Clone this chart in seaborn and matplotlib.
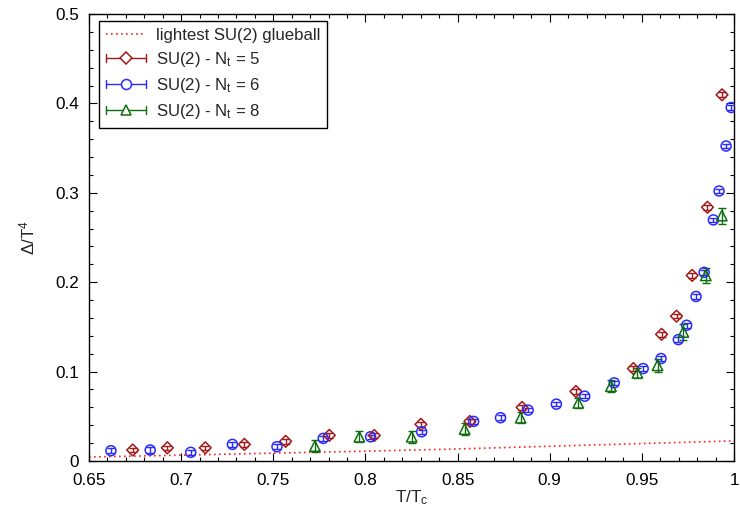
import numpy as np
import pandas as pd
import matplotlib
matplotlib.use("Agg")
import matplotlib.pyplot as plt
from matplotlib.legend_handler import HandlerBase
from matplotlib.lines import Line2D
from matplotlib.ticker import MultipleLocator, FixedLocator, FixedFormatter
import seaborn as sns

# Trace anomaly Delta/T^4 versus T/Tc for SU(2), three temporal extents
t5 = [0.6737, 0.6925, 0.7131, 0.7343, 0.7567, 0.7804, 0.8048, 0.8301, 0.8567,
      0.8850, 0.9142, 0.9454, 0.9607, 0.9688, 0.9773, 0.9856, 0.9935]
d5 = [0.0123, 0.0148, 0.0148, 0.0186, 0.0220, 0.0287, 0.0285, 0.0410, 0.0443,
      0.0600, 0.0778, 0.1034, 0.1417, 0.1620, 0.2076, 0.2838, 0.4096]
e5 = [0.0025, 0.0025, 0.0025, 0.0025, 0.0025, 0.0025, 0.0025, 0.0025, 0.0025,
      0.0025, 0.0025, 0.0025, 0.0025, 0.0025, 0.0025, 0.0030, 0.0030]

t6 = [0.6619, 0.6832, 0.7052, 0.7278, 0.7520, 0.7771, 0.8028, 0.8305, 0.8587,
      0.8733, 0.8883, 0.9036, 0.9190, 0.9350, 0.9507, 0.9604, 0.9698, 0.9743,
      0.9794, 0.9838, 0.9888, 0.9919, 0.9957, 0.9985]
d6 = [0.0115, 0.0123, 0.0097, 0.0186, 0.0160, 0.0253, 0.0271, 0.0327, 0.0443,
      0.0484, 0.0569, 0.0636, 0.0725, 0.0874, 0.1034, 0.1146, 0.1358, 0.1518,
      0.1840, 0.2110, 0.2697, 0.3020, 0.3523, 0.3954]
e6 = [0.0030, 0.0030, 0.0030, 0.0025, 0.0025, 0.0025, 0.0025, 0.0025, 0.0025,
      0.0025, 0.0025, 0.0025, 0.0025, 0.0025, 0.0025, 0.0025, 0.0025, 0.0025,
      0.0025, 0.0025, 0.0025, 0.0025, 0.0025, 0.0025]

t8 = [0.7726, 0.7967, 0.8251, 0.8538, 0.8842, 0.9155, 0.9332, 0.9476, 0.9585,
      0.9725, 0.9847, 0.9934]
d8 = [0.0167, 0.0271, 0.0271, 0.0357, 0.0484, 0.0650, 0.0837, 0.0985, 0.1070,
      0.1443, 0.2076, 0.2745]
e8 = [0.0070, 0.0060, 0.0070, 0.0070, 0.0060, 0.0060, 0.0070, 0.0060, 0.0070,
      0.0090, 0.0080, 0.0090]

# Lightest glueball contribution
tg = [0.65, 0.70, 0.75, 0.80, 0.85, 0.90, 0.95, 1.00]
dg = [0.0045, 0.0065, 0.0088, 0.0110, 0.0135, 0.0165, 0.0195, 0.0225]

xticks = [0.65, 0.7, 0.75, 0.8, 0.85, 0.9, 0.95, 1.0]
xticklabels = ["0.65", "0.7", "0.75", "0.8", "0.85", "0.9", "0.95", "1"]
yticks = [0.0, 0.1, 0.2, 0.3, 0.4, 0.5]
yticklabels = ["0", "0.1", "0.2", "0.3", "0.4", "0.5"]

FS = 12.3

sns.set_style("ticks")
plt.rcParams["font.family"] = ["Liberation Sans", "DejaVu Sans"]
plt.rcParams["mathtext.fontset"] = "custom"
plt.rcParams["mathtext.rm"] = "Liberation Sans"
plt.rcParams["mathtext.it"] = "Liberation Sans"

fig = plt.figure(figsize=(7.4, 5.12), dpi=100)
ax = fig.add_axes([0.1203, 0.0996, 0.8716, 0.8731])

sns.lineplot(x=tg, y=dg, ax=ax, color="#ff2020", linestyle=(0, (1, 2)),
             linewidth=1.2, label="_nolegend_")

series = [
    (t5, d5, e5, "#a31818", "D", 6.0, r"SU(2) - $\mathregular{N_t}$ = 5"),
    (t6, d6, e6, "#2a2aff", "o", 7.2, r"SU(2) - $\mathregular{N_t}$ = 6"),
    (t8, d8, e8, "#0e6e0e", "^", 7.5, r"SU(2) - $\mathregular{N_t}$ = 8"),
]
for t, d, e, c, m, ms, lab in series:
    df = pd.DataFrame({"T": t, "D": d})
    ax.errorbar(t, d, yerr=e, fmt="none", ecolor=c, elinewidth=1.0,
                capsize=3, capthick=1.0, zorder=3)
    sns.scatterplot(data=df, x="T", y="D", ax=ax, marker=m, s=ms ** 2,
                    facecolors="none", edgecolor=c, linewidth=1.1, zorder=4,
                    legend=False)

ax.set_xlim(0.65, 1.0)
ax.set_ylim(0.0, 0.5)
ax.xaxis.set_major_locator(FixedLocator(xticks))
ax.xaxis.set_major_formatter(FixedFormatter(xticklabels))
ax.yaxis.set_major_locator(FixedLocator(yticks))
ax.yaxis.set_major_formatter(FixedFormatter(yticklabels))
ax.xaxis.set_minor_locator(MultipleLocator(0.01))
ax.yaxis.set_minor_locator(MultipleLocator(0.02))
ax.tick_params(which="both", direction="in", top=True, right=True,
               labelsize=FS, colors="black", width=0.8)
ax.tick_params(which="major", length=6)
ax.tick_params(which="minor", length=3)
ax.tick_params(axis="x", which="major", pad=8.5)
ax.tick_params(axis="y", which="major", pad=7)
for s in ax.spines.values():
    s.set_linewidth(1.0)
    s.set_color("black")
ax.set_xlabel(r"$\mathregular{T/T_c}$", fontsize=FS, labelpad=0.5)
ax.set_ylabel(r"$\mathregular{\Delta/T^4}$", fontsize=FS, labelpad=13)


class ErrHandler(HandlerBase):
    def __init__(self, color, marker, ms):
        super().__init__()
        self.color, self.marker, self.ms = color, marker, ms

    def create_artists(self, legend, orig, xd, yd, w, h, fs, trans):
        y = yd + h / 2
        x0, x1 = xd, xd + w
        arts = [Line2D([x0, x1], [y, y], color=self.color, lw=1.0),
                Line2D([x0, x0], [y - 3, y + 3], color=self.color, lw=1.0),
                Line2D([x1, x1], [y - 3, y + 3], color=self.color, lw=1.0),
                Line2D([(x0 + x1) / 2], [y], marker=self.marker,
                       markersize=self.ms, markerfacecolor="white",
                       markeredgecolor=self.color, mew=1.1, ls="none")]
        for a in arts:
            a.set_transform(trans)
        return arts


class DotHandler(HandlerBase):
    def create_artists(self, legend, orig, xd, yd, w, h, fs, trans):
        y = yd + h / 2
        ln = Line2D([xd, xd + w], [y, y], color="#ff2020",
                    linestyle=(0, (1, 2)), lw=1.2)
        ln.set_transform(trans)
        return [ln]


proxies = [object() for _ in range(4)]
labels = ["lightest SU(2) glueball"] + [s[6] for s in series]
hmap = {proxies[0]: DotHandler()}
for p, s in zip(proxies[1:], series):
    hmap[p] = ErrHandler(s[3], s[4], s[5])
leg = ax.legend(proxies, labels, handler_map=hmap, loc="upper left",
                bbox_to_anchor=(0.0155, 0.984), fontsize=12.1, frameon=True,
                fancybox=False, edgecolor="black", framealpha=1,
                handlelength=2.4, handletextpad=0.6, borderpad=0.4,
                borderaxespad=0, labelspacing=0.42)
leg.get_frame().set_linewidth(1.0)

fig.savefig("out.png", dpi=100)
